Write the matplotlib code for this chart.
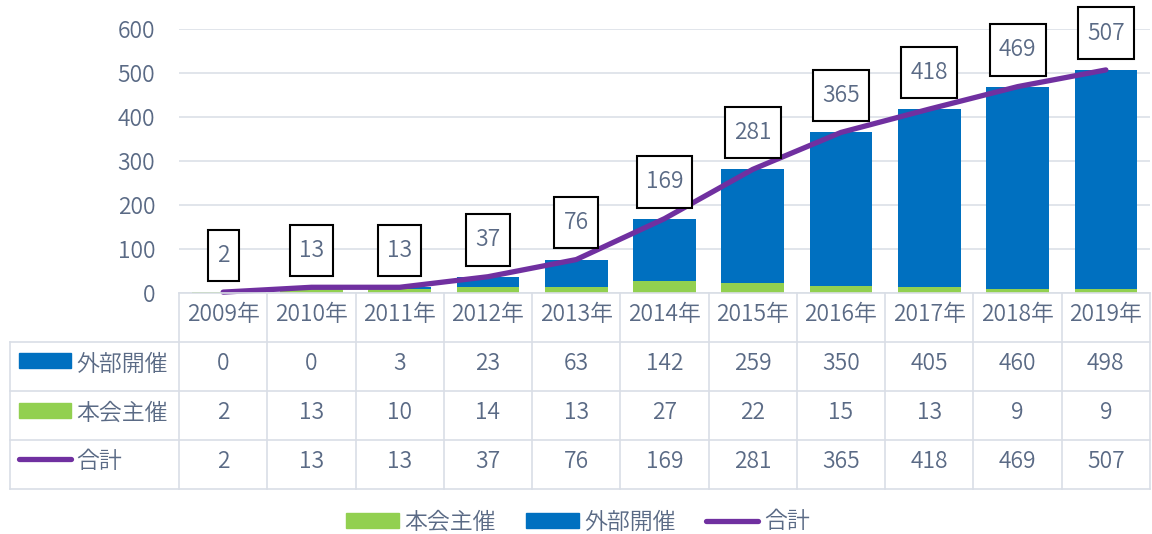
import matplotlib.pyplot as plt
from matplotlib.patches import Patch, Rectangle
from matplotlib.lines import Line2D
from matplotlib.path import Path

plt.rcParams['font.family'] = ['Noto Sans CJK JP', 'DejaVu Sans']
plt.rcParams['font.weight'] = 350

years = ['2009年', '2010年', '2011年', '2012年', '2013年', '2014年',
         '2015年', '2016年', '2017年', '2018年', '2019年']
external = [0, 0, 3, 23, 63, 142, 259, 350, 405, 460, 498]   # 外部開催
own = [2, 13, 10, 14, 13, 27, 22, 15, 13, 9, 9]              # 本会主催
total = [2, 13, 13, 37, 76, 169, 281, 365, 418, 469, 507]    # 合計

blue = '#0070C0'
green = '#92D050'
purple = '#7030A0'
txt = '#5A6A85'
grid = '#D9DEE6'
fs = 16.5

W, H = 1152, 534
fig = plt.figure(figsize=(W / 100, H / 100), dpi=100)


def tallbox(x0, y0, width, height, mutation_size):
    # square box, more padding top/bottom than left/right
    px, py = 0.4 * mutation_size, 0.62 * mutation_size
    x0, y0 = x0 - px, y0 - py
    x1, y1 = x0 + width + 2 * px, y0 + height + 2 * py
    return Path([(x0, y0), (x1, y0), (x1, y1), (x0, y1), (x0, y0)], closed=True)


# chart area in pixels
L, R, T, B = 179, 1150, 29, 293
ax = fig.add_axes([L / W, (H - B) / H, (R - L) / W, (B - T) / H])
x = list(range(len(years)))

ax.bar(x, own, width=0.71, color=green, zorder=2)
ax.bar(x, external, width=0.71, bottom=own, color=blue, zorder=2)
ax.plot(x, total, color=purple, lw=3.8, solid_capstyle='round',
        solid_joinstyle='round', zorder=3, clip_on=False)

for xi, v in zip(x, total):
    ax.annotate(str(v), (xi, v), xytext=(0, 26.5), textcoords='offset points',
                ha='center', va='center', fontsize=fs, color=txt, zorder=4,
                annotation_clip=False,
                bbox=dict(boxstyle=tallbox, fc='white', ec='black', lw=1.5))

ax.set_xlim(-0.5, len(years) - 0.5)
ax.set_ylim(0, 600)
ax.set_yticks(range(0, 601, 100))
ax.set_xticks([])
ax.tick_params(axis='y', length=0, pad=17, labelsize=fs, labelcolor=txt)
ax.yaxis.grid(True, color=grid, lw=1.1)
ax.set_axisbelow(True)
for s in ax.spines.values():
    s.set_visible(False)

# data table below the chart
TB = 489
tax = fig.add_axes([L / W, (H - TB) / H, (R - L) / W, (TB - B) / H])
tax.set_xlim(-0.5, len(years) - 0.5)
tax.set_ylim(TB, B)
tax.axis('off')
cw = (R - L) / len(years)


def px2x(p):
    return -0.5 + (p - L) / cw


rows = [293, 342, 391, 440, 489]
left = px2x(10)
right = len(years) - 0.5
tax.plot([-0.5, right], [rows[0], rows[0]], color=grid, lw=1.2, clip_on=False)
for yy in rows[1:]:
    tax.plot([left, right], [yy, yy], color=grid, lw=1.2, clip_on=False)
tax.plot([left, left], [rows[1], rows[-1]], color=grid, lw=1.2, clip_on=False)
for k in range(len(years) + 1):
    tax.plot([k - 0.5, k - 0.5], [rows[0], rows[-1]], color=grid, lw=1.2, clip_on=False)

for i, yr in enumerate(years):
    tax.text(i, 315, yr, ha='center', va='center', fontsize=fs, color=txt)
    for yy, vals in zip([364, 413, 462], [external, own, total]):
        tax.text(i, yy, str(vals[i]), ha='center', va='center', fontsize=fs, color=txt)

labels = ['外部開催', '本会主催', '合計']
for yy, lab in zip([364, 413, 462], labels):
    tax.text(px2x(76), yy, lab, ha='left', va='center', fontsize=fs, color=txt, clip_on=False)
tax.add_patch(Rectangle((px2x(19), 368), px2x(71) - px2x(19), -15, color=blue, clip_on=False))
tax.add_patch(Rectangle((px2x(19), 418), px2x(71) - px2x(19), -15, color=green, clip_on=False))
tax.plot([px2x(19), px2x(71)], [459, 459], color=purple, lw=3.8,
         solid_capstyle='round', clip_on=False)

handles = [Patch(color=green, label='本会主催'),
           Patch(color=blue, label='外部開催'),
           Line2D([], [], color=purple, lw=3.8, solid_capstyle='round', label='合計')]
fig.legend(handles=handles, loc='center', bbox_to_anchor=(578 / W, 12 / H), ncol=3,
           frameon=False, fontsize=fs, labelcolor=txt, handlelength=2.3,
           handleheight=0.6, handletextpad=0.25, columnspacing=1.3,
           borderpad=0.1)

fig.savefig('out.png', dpi=100)
